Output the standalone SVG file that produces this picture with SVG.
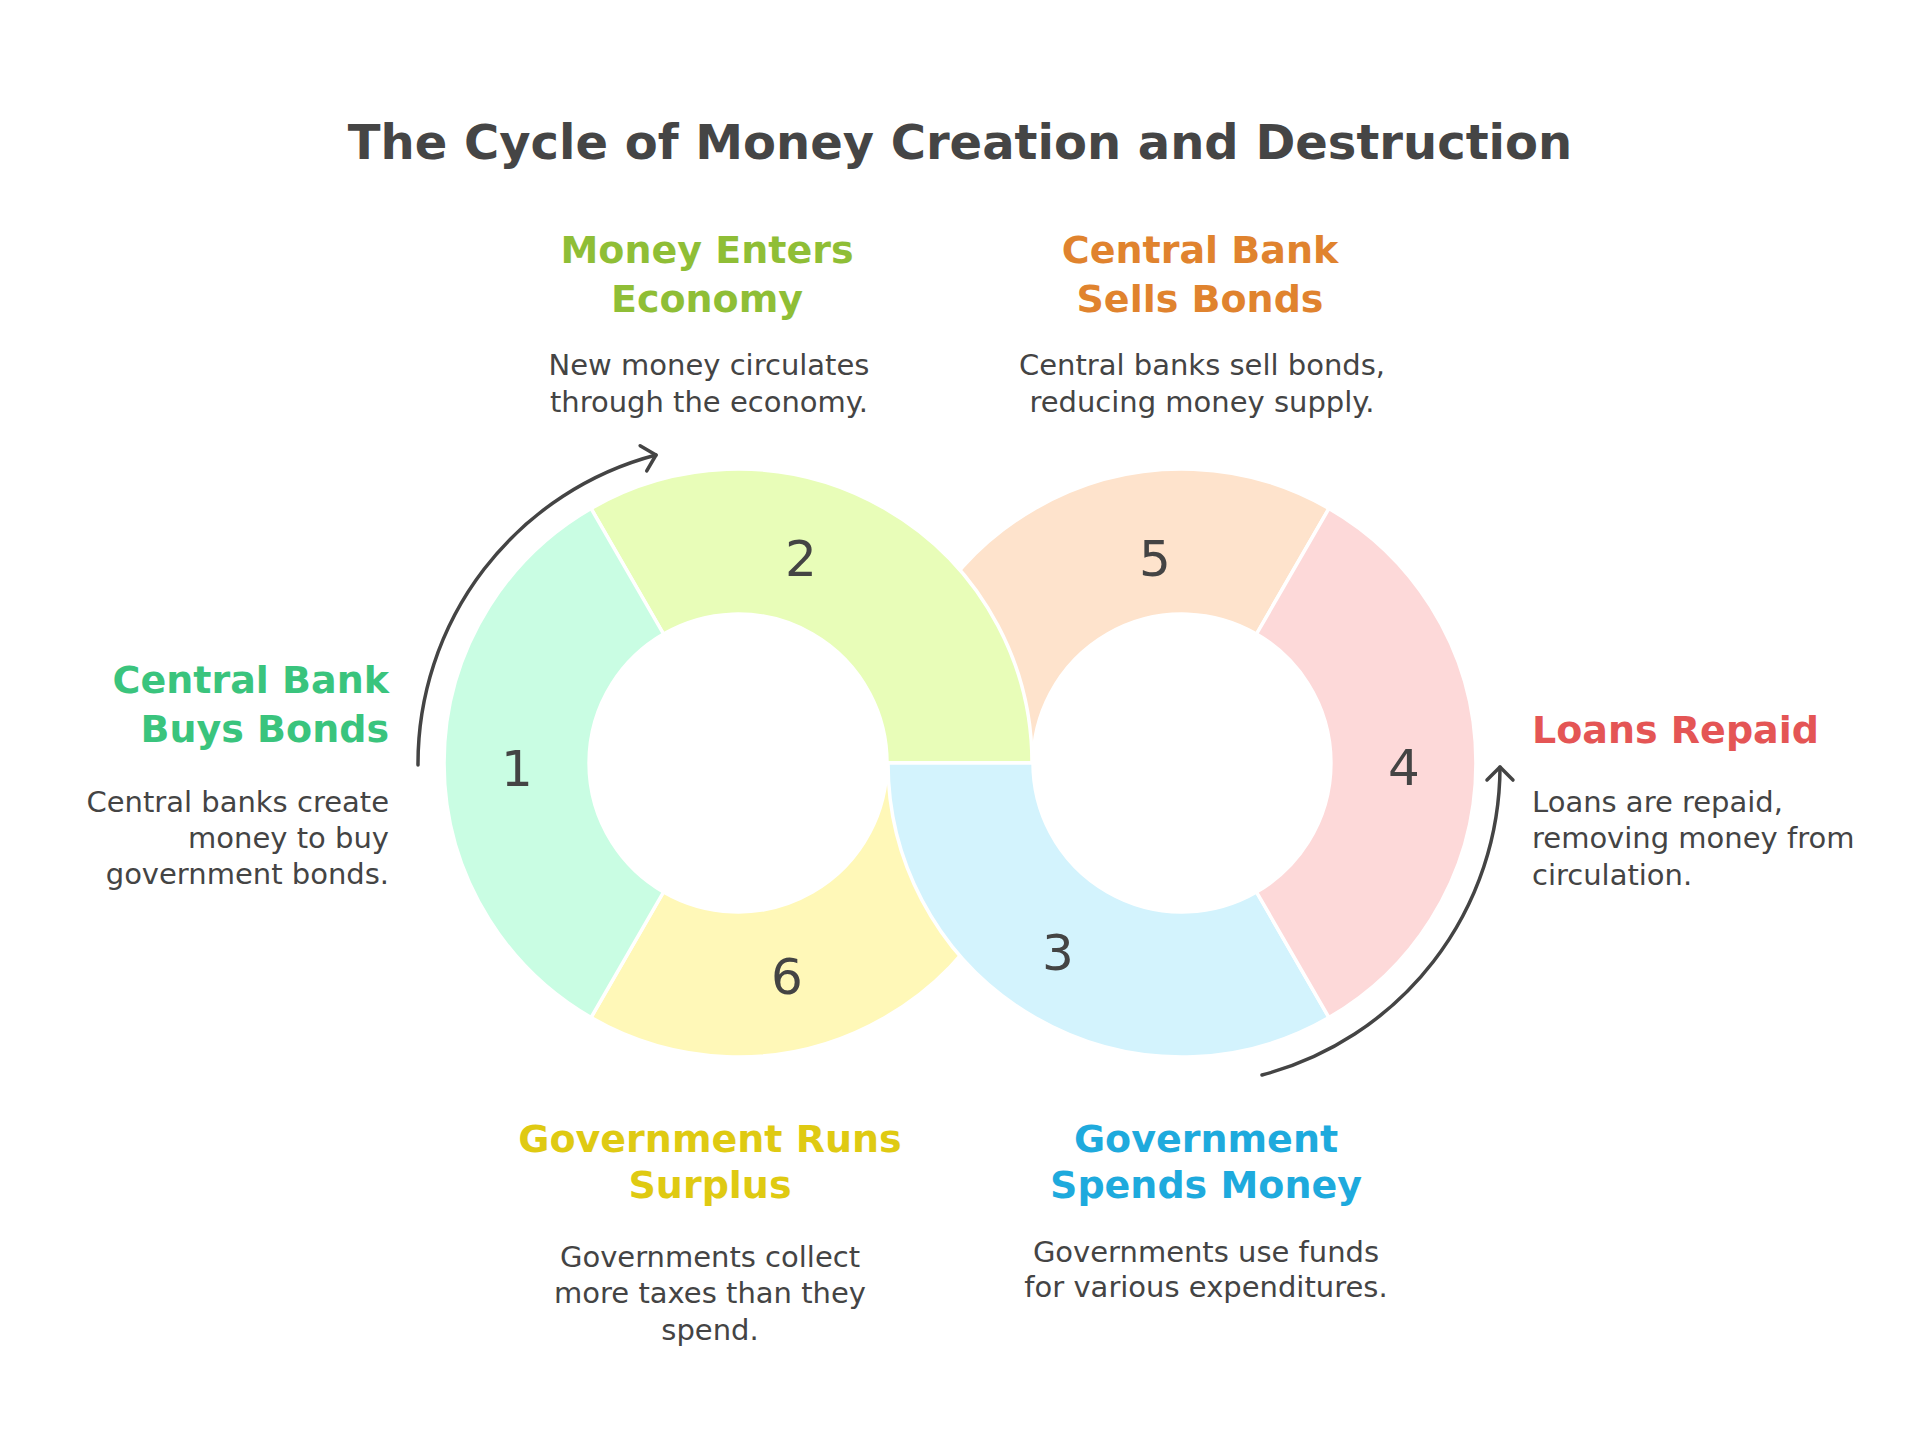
<svg xmlns="http://www.w3.org/2000/svg" width="1920" height="1452" viewBox="0 0 1920 1452">
<defs>
<style>
.seg{stroke:#ffffff;stroke-width:3.5;stroke-linejoin:round}
.num{font-family:"DejaVu Sans",sans-serif;font-size:50px;fill:#444444;text-anchor:middle}
.title{font-family:"DejaVu Sans",sans-serif;font-weight:bold;font-size:48px;fill:#454545;text-anchor:middle}
.hd{font-family:"DejaVu Sans",sans-serif;font-weight:bold;font-size:38px}
.bd{font-family:"DejaVu Sans",sans-serif;font-size:29px;fill:#444444}
.conn{fill:none;stroke:#444444;stroke-width:3.5;stroke-linecap:round}
</style>
<marker id="ah" markerUnits="userSpaceOnUse" markerWidth="40" markerHeight="40" refX="0" refY="0" viewBox="-20 -20 40 40" orient="auto" overflow="visible">
<path d="M-13,-13 L0,0 L-13,13" fill="none" stroke="#444444" stroke-width="3.5" stroke-linecap="round" stroke-linejoin="round"/>
</marker>
</defs>
<rect width="1920" height="1452" fill="#ffffff"/>
<text class="title" x="960" y="159">The Cycle of Money Creation and Destruction</text>

<g id="node5">
<path class="seg" fill="#fee3cc" d="M888,763 A294,294 0 0 1 1329,508.4 L1256.5,634 A149,149 0 0 0 1033,763 Z"/>
<text class="num" x="1155" y="576">5</text>
<text class="hd" fill="#e0832e" text-anchor="middle" x="1200" y="263">Central Bank</text>
<text class="hd" fill="#e0832e" text-anchor="middle" x="1200" y="312">Sells Bonds</text>
<text class="bd" text-anchor="middle" x="1202" y="375">Central banks sell bonds,</text>
<text class="bd" text-anchor="middle" x="1202" y="412">reducing money supply.</text>
</g>

<g id="node2">
<path class="seg" fill="#e8fdb8" d="M591,508.4 A294,294 0 0 1 1032,763 L887,763 A149,149 0 0 0 663.5,634 Z"/>
<text class="num" x="801" y="576">2</text>
<text class="hd" fill="#8fbe36" text-anchor="middle" x="707" y="263">Money Enters</text>
<text class="hd" fill="#8fbe36" text-anchor="middle" x="707" y="312">Economy</text>
<text class="bd" text-anchor="middle" x="709" y="375">New money circulates</text>
<text class="bd" text-anchor="middle" x="709" y="412">through the economy.</text>
</g>

<g id="node6">
<path class="seg" fill="#fff8b8" d="M1032,763 A294,294 0 0 1 591,1017.6 L663.5,892 A149,149 0 0 0 887,763 Z"/>
<text class="num" x="787" y="994">6</text>
<text class="hd" fill="#dfca12" text-anchor="middle" x="710" y="1152">Government Runs</text>
<text class="hd" fill="#dfca12" text-anchor="middle" x="710" y="1198">Surplus</text>
<text class="bd" text-anchor="middle" x="710" y="1267">Governments collect</text>
<text class="bd" text-anchor="middle" x="710" y="1303">more taxes than they</text>
<text class="bd" text-anchor="middle" x="710" y="1340">spend.</text>
</g>

<g id="node3">
<path class="seg" fill="#d3f3fd" d="M1329,1017.6 A294,294 0 0 1 888,763 L1033,763 A149,149 0 0 0 1256.5,892 Z"/>
<text class="num" x="1058" y="970">3</text>
<text class="hd" fill="#1eaadd" text-anchor="middle" x="1206" y="1152">Government</text>
<text class="hd" fill="#1eaadd" text-anchor="middle" x="1206" y="1198">Spends Money</text>
<text class="bd" text-anchor="middle" x="1206" y="1262">Governments use funds</text>
<text class="bd" text-anchor="middle" x="1206" y="1297">for various expenditures.</text>
</g>

<g id="node1">
<path class="seg" fill="#c9fde3" d="M591,508.4 A294,294 0 0 0 591,1017.6 L663.5,892 A149,149 0 0 1 663.5,634 Z"/>
<text class="num" x="517" y="786">1</text>
<text class="hd" fill="#3ac47d" text-anchor="end" x="389" y="693">Central Bank</text>
<text class="hd" fill="#3ac47d" text-anchor="end" x="389" y="742">Buys Bonds</text>
<text class="bd" text-anchor="end" x="389" y="812">Central banks create</text>
<text class="bd" text-anchor="end" x="389" y="848">money to buy</text>
<text class="bd" text-anchor="end" x="389" y="884">government bonds.</text>
</g>

<g id="node4">
<path class="seg" fill="#fdd9d9" d="M1329,508.4 A294,294 0 0 1 1329,1017.6 L1256.5,892 A149,149 0 0 0 1256.5,634 Z"/>
<text class="num" x="1404" y="785">4</text>
<text class="hd" fill="#e45555" x="1532" y="743">Loans Repaid</text>
<text class="bd" x="1532" y="812">Loans are repaid,</text>
<text class="bd" x="1532" y="848">removing money from</text>
<text class="bd" x="1532" y="885">circulation.</text>
</g>

<g id="connectors">
<path class="conn" d="M418,765 A319,319 0 0 1 656,455" marker-end="url(#ah)"/>
<path class="conn" d="M1262,1075 A319,319 0 0 0 1500,767" marker-end="url(#ah)"/>
</g>
</svg>
